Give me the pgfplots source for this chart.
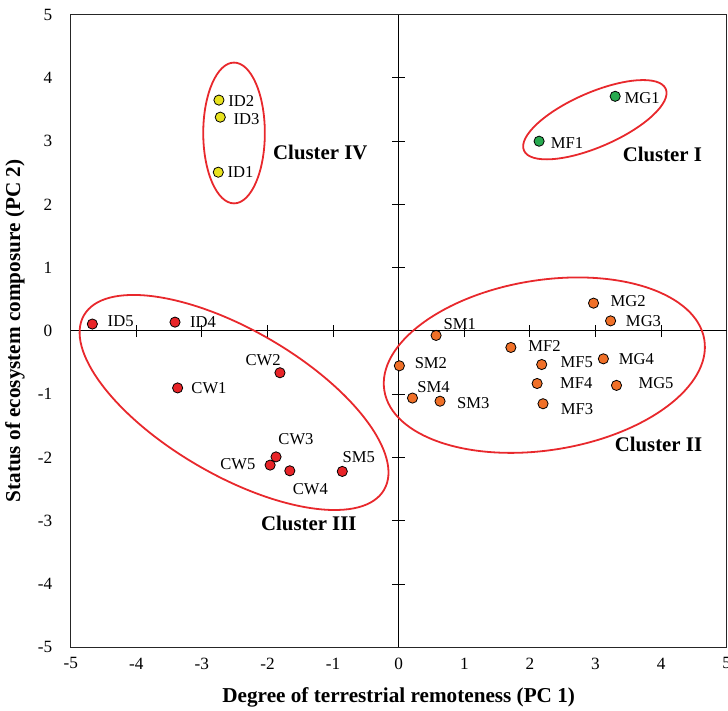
\documentclass[border=0pt]{standalone}
\usepackage{pgfplots}
\pgfplotsset{compat=1.18}
\usepackage{fontspec}
\setmainfont{Liberation Serif}
\definecolor{cyel}{RGB}{232,226,30}
\definecolor{cgrn}{RGB}{40,170,80}
\definecolor{cred}{RGB}{232,36,40}
\definecolor{corg}{RGB}{240,112,40}
\definecolor{cell}{RGB}{232,40,44}
\newcommand{\lab}[6]{\node[anchor=#3,inner sep=0pt,xshift=#4,yshift=#5,font=\fontsize{8.3}{9}\selectfont] at (axis cs:#1,#2) {#6};}
\newcommand{\clu}[3]{\node[anchor=center,inner sep=0pt,font=\fontsize{10.4}{12}\selectfont\bfseries] at (axis cs:#1,#2) {#3};}
\begin{document}
\begin{tikzpicture}
\begin{axis}[
  scale only axis,
  width=328pt, height=316.3pt,
  xmin=-5, xmax=5, ymin=-5, ymax=5,
  xtick={-5,...,5}, ytick={-5,...,5},
  xtick pos=left, ytick pos=left,
  major tick length=0pt,
  tick style={draw=none},
  axis line style={line width=0.6pt, black!85},
  clip=false,
  /pgf/number format/assume math mode=true,
  tick label style={font=\fontsize{8.6}{10}\selectfont},
  xticklabel style={inner sep=0pt, anchor=north, yshift=-5pt},
  yticklabel style={inner sep=0pt, anchor=east, xshift=-9pt},
  xlabel={Degree of terrestrial remoteness (PC 1)},
  ylabel={Status of ecosystem composure (PC 2)},
  every axis x label/.style={at={(axis description cs:0.5,-0.0786)}, anchor=center, font=\fontsize{10.6}{12}\selectfont\bfseries},
  every axis y label/.style={at={(axis description cs:-0.0849,0.5)}, anchor=center, rotate=90, font=\fontsize{10.6}{12}\selectfont\bfseries},
]
% centre lines with ticks
\draw[line width=0.5pt] (axis cs:0,-5) -- (axis cs:0,5);
\draw[line width=0.5pt] (axis cs:-5,0) -- (axis cs:5,0);
\pgfplotsinvokeforeach{-4,-3,-2,-1,1,2,3,4}{
  \draw[line width=0.5pt] (axis cs:-0.1,#1) -- (axis cs:0.1,#1);
  \draw[line width=0.5pt] (axis cs:#1,-0.095) -- (axis cs:#1,0.095);
}
% cluster ellipses
\draw[cell, line width=0.9pt] (axis cs:-2.51,3.13) ellipse [x radius=15.4pt, y radius=35.2pt];
\draw[cell, line width=0.9pt, rotate around={23.5:(axis cs:2.99,3.34)}] (axis cs:2.99,3.34) ellipse [x radius=38.65pt, y radius=13.6pt];
\draw[cell, line width=0.9pt, rotate around={-30.2:(axis cs:-2.51,-1.13)}] (axis cs:-2.51,-1.13) ellipse [x radius=86.8pt, y radius=36.3pt];
\draw[cell, line width=0.9pt, rotate around={9:(axis cs:2.22,-0.54)}] (axis cs:2.22,-0.54) ellipse [x radius=81pt, y radius=42.5pt];
% points
\addplot[only marks, mark=*, mark size=2.55pt, mark options={fill=cyel, draw=black, line width=0.4pt}] coordinates {
(-2.75,2.51) (-2.74,3.65) (-2.72,3.38)};
\addplot[only marks, mark=*, mark size=2.55pt, mark options={fill=cgrn, draw=black, line width=0.4pt}] coordinates {
(2.14,3.00) (3.30,3.71)};
\addplot[only marks, mark=*, mark size=2.55pt, mark options={fill=cred, draw=black, line width=0.4pt}] coordinates {
(-3.41,0.14) (-4.67,0.11) (-3.37,-0.90) (-1.81,-0.66) (-1.87,-1.99) (-1.66,-2.21) (-1.96,-2.12) (-0.86,-2.22)};
\addplot[only marks, mark=*, mark size=2.55pt, mark options={fill=corg, draw=black, line width=0.4pt}] coordinates {
(0.57,-0.07) (0.01,-0.55) (0.63,-1.11) (0.21,-1.06) (1.71,-0.26) (2.20,-1.15) (2.11,-0.83) (2.18,-0.53) (2.97,0.44) (3.23,0.16) (3.12,-0.44) (3.32,-0.86)};
% point labels
\lab{-2.74}{3.65}{west}{4.5pt}{-0.5pt}{ID2}
\lab{-2.72}{3.38}{west}{6.5pt}{-1pt}{ID3}
\lab{-2.75}{2.51}{west}{4.5pt}{0pt}{ID1}
\lab{-4.67}{0.11}{west}{7.5pt}{1.5pt}{ID5}
\lab{-3.41}{0.14}{west}{7.3pt}{0pt}{ID4}
\lab{3.30}{3.71}{west}{4.5pt}{-0.8pt}{MG1}
\lab{2.14}{3.00}{west}{5.7pt}{-1pt}{MF1}
\lab{-1.81}{-0.66}{east}{0.5pt}{6.2pt}{CW2}
\lab{-3.37}{-0.90}{west}{6.7pt}{0pt}{CW1}
\lab{-1.87}{-1.99}{west}{1pt}{8.9pt}{CW3}
\lab{-1.96}{-2.12}{east}{-7.2pt}{0.6pt}{CW5}
\lab{-1.66}{-2.21}{west}{1.3pt}{-9.4pt}{CW4}
\lab{-0.86}{-2.22}{west}{0pt}{7.3pt}{SM5}
\lab{2.97}{0.44}{west}{8.3pt}{0.8pt}{MG2}
\lab{3.23}{0.16}{west}{7.5pt}{0pt}{MG3}
\lab{0.57}{-0.07}{west}{3.6pt}{5.6pt}{SM1}
\lab{1.71}{-0.26}{west}{8.5pt}{0.8pt}{MF2}
\lab{0.01}{-0.55}{west}{7.5pt}{1.6pt}{SM2}
\lab{2.18}{-0.53}{west}{9.3pt}{1pt}{MF5}
\lab{3.12}{-0.44}{west}{7.5pt}{0pt}{MG4}
\lab{2.11}{-0.83}{west}{11.3pt}{0pt}{MF4}
\lab{3.32}{-0.86}{west}{10.8pt}{1pt}{MG5}
\lab{0.21}{-1.06}{west}{2.3pt}{5.7pt}{SM4}
\lab{0.63}{-1.11}{west}{8.3pt}{-0.7pt}{SM3}
\lab{2.20}{-1.15}{west}{8.7pt}{-2.8pt}{MF3}
% cluster labels
\clu{-1.195}{2.82}{Cluster IV}
\clu{4.02}{2.79}{Cluster I}
\clu{-1.37}{-3.04}{Cluster III}
\clu{3.96}{-1.79}{Cluster II}
\end{axis}
\pgfresetboundingbox
\useasboundingbox (-35.35pt,-31.85pt) rectangle (328.65pt,323.65pt);
\end{tikzpicture}
\end{document}
